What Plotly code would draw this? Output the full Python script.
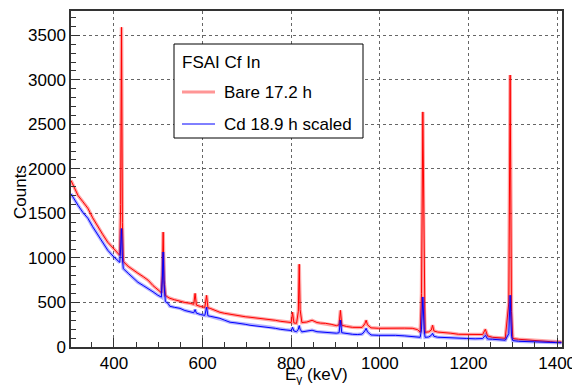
import plotly.graph_objects as go

# Energy (keV), Bare counts (red), Cd scaled counts (blue)
energy_kev = [303, 310, 319, 330, 341, 352, 364, 375, 386, 398, 409, 413, 415, 417, 419, 421,
              432, 443, 454, 466, 477, 488, 499, 507, 509, 511, 513, 516, 522, 526, 537, 549,
              560, 572, 580, 583, 586, 595, 605, 609, 612, 617, 628, 639, 650, 662, 673, 685,
              696, 707, 718, 730, 741, 752, 764, 775, 786, 797, 800, 803, 806, 812, 816, 818,
              820, 824, 835, 847, 858, 866, 877, 890, 902, 908, 911, 914, 925, 938, 950, 960,
              966, 969, 972, 980, 997, 1015, 1035, 1055, 1073, 1085, 1091, 1094, 1097, 1100,
              1102, 1110, 1116, 1119, 1122, 1130, 1141, 1160, 1177, 1195, 1215, 1232, 1238,
              1243, 1254, 1270, 1283, 1291, 1294, 1297, 1300, 1313, 1330, 1351, 1370, 1385,
              1396, 1410]
bare_counts = [1870, 1790, 1700, 1630, 1558, 1450, 1345, 1260, 1176, 1110, 1053, 1030, 1600, 3590, 1400, 960,
               906, 865, 828, 790, 750, 690, 637, 610, 800, 1290, 750, 580, 558, 547, 530, 513,
               500, 491, 480, 602, 470, 455, 445, 580, 440, 434, 410, 390, 378, 367, 355, 345,
               340, 334, 328, 322, 316, 311, 300, 289, 283, 278, 275, 390, 270, 266, 400, 930,
               420, 275, 280, 300, 275, 268, 266, 255, 240, 250, 412, 245, 230, 221, 218, 220,
               260, 300, 250, 215, 210, 212, 210, 212, 210, 195, 166, 600, 2640, 500,
               166, 170, 190, 244, 180, 168, 166, 155, 143, 140, 135, 140, 199,
               125, 109, 104, 98, 500, 3054, 400, 95, 87, 82, 76, 70, 60,
               53, 55]
cd_counts = [1720, 1660, 1590, 1510, 1446, 1350, 1255, 1170, 1086, 1020, 974, 950, 1100, 1330, 1000, 880,
             828, 780, 727, 690, 659, 620, 581, 560, 750, 1067, 700, 510, 490, 457, 445, 434,
             410, 390, 385, 420, 380, 365, 355, 446, 350, 345, 333, 322, 300, 278, 272, 266,
             255, 244, 238, 233, 227, 221, 210, 199, 194, 188, 185, 221, 180, 172, 200, 240,
             200, 170, 175, 188, 172, 168, 166, 160, 155, 160, 300, 160, 150, 143, 140, 145,
             180, 210, 170, 135, 131, 133, 131, 125, 120, 115, 109, 200, 562, 200,
             109, 112, 130, 153, 120, 110, 109, 104, 98, 96, 92, 95, 131,
             90, 87, 82, 76, 150, 581, 120, 72, 64, 60, 53, 55, 52,
             50, 48]

x_ticks = [400, 600, 800, 1000, 1200, 1400]
y_ticks = [0, 500, 1000, 1500, 2000, 2500, 3000, 3500]

FONT = "Liberation Sans, Arial, Helvetica, sans-serif"

fig = go.Figure()
for y, band, line in [(bare_counts, "rgba(255,0,0,0.35)", "#ff0000"),
                      (cd_counts, "rgba(0,0,255,0.3)", "#0000ff")]:
    fig.add_trace(go.Scatter(x=energy_kev, y=y, mode="lines",
                             line=dict(color=band, width=3.5), showlegend=False, hoverinfo="skip"))
    fig.add_trace(go.Scatter(x=energy_kev, y=y, mode="lines",
                             line=dict(color=line, width=1), showlegend=False))

axis_common = dict(showline=True, mirror=True, linecolor="#333", linewidth=1.5,
                   ticks="inside", ticklen=9, tickcolor="#333", tickwidth=1,
                   showgrid=True, gridcolor="#666", griddash="dot", gridwidth=1,
                   zeroline=False, automargin=False, ticklabeloverflow="allow",
                   tickfont=dict(family=FONT, size=17, color="black"))

fig.update_xaxes(range=[303, 1411], tickvals=x_ticks, ticktext=[str(v) for v in x_ticks],
                 minor=dict(dtick=50, tick0=0, ticks="inside", ticklen=5, tickcolor="#333", showgrid=False),
                 **axis_common)
fig.update_yaxes(range=[0, 3773], tickvals=y_ticks, ticktext=[str(v) for v in y_ticks],
                 minor=dict(dtick=100, tick0=0, ticks="inside", ticklen=5, tickcolor="#333", showgrid=False),
                 **axis_common)

L, R, T, B = 71, 10, 11, 38
W, H = 572, 385
pw, ph = W - L - R, H - T - B

def px(xp):
    return (xp - L) / pw

def py(yp):
    return (H - B - yp) / ph

shapes = [
    dict(type="rect", xref="paper", yref="paper", x0=px(174), x1=px(363), y0=py(138), y1=py(44),
         line=dict(color="black", width=1), fillcolor="white", layer="above"),
    dict(type="line", xref="paper", yref="paper", x0=px(182), x1=px(215), y0=py(92), y1=py(92),
         line=dict(color="rgba(255,80,80,0.6)", width=3), layer="above"),
    dict(type="line", xref="paper", yref="paper", x0=px(182), x1=px(215), y0=py(124), y1=py(124),
         line=dict(color="#0000ff", width=1), layer="above"),
]
annotations = [
    dict(text="FSAI Cf In", xref="paper", yref="paper", x=px(180), y=py(62), xanchor="left",
         yanchor="middle", showarrow=False, font=dict(family=FONT, size=17, color="black")),
    dict(text="Bare 17.2 h", xref="paper", yref="paper", x=px(222), y=py(92), xanchor="left",
         yanchor="middle", showarrow=False, font=dict(family=FONT, size=17, color="black")),
    dict(text="Cd 18.9 h scaled", xref="paper", yref="paper", x=px(222), y=py(124), xanchor="left",
         yanchor="middle", showarrow=False, font=dict(family=FONT, size=17, color="black")),
    dict(text="Counts", xref="paper", yref="paper", x=px(20), y=py(192), xanchor="center",
         yanchor="middle", textangle=-90, showarrow=False, font=dict(family=FONT, size=17, color="black")),
    dict(text="E<sub>γ</sub> (keV)", xref="paper", yref="paper", x=px(316), y=py(376), xanchor="center",
         yanchor="middle", showarrow=False, font=dict(family=FONT, size=17, color="black")),
]

fig.update_layout(width=W, height=H, margin=dict(l=L, r=R, t=T, b=B, pad=0),
                  paper_bgcolor="white", plot_bgcolor="white",
                  shapes=shapes, annotations=annotations, showlegend=False)

fig.write_html("out.html", config={"displayModeBar": False},
               post_script="document.body.style.margin='0';document.body.style.overflow='hidden';")
